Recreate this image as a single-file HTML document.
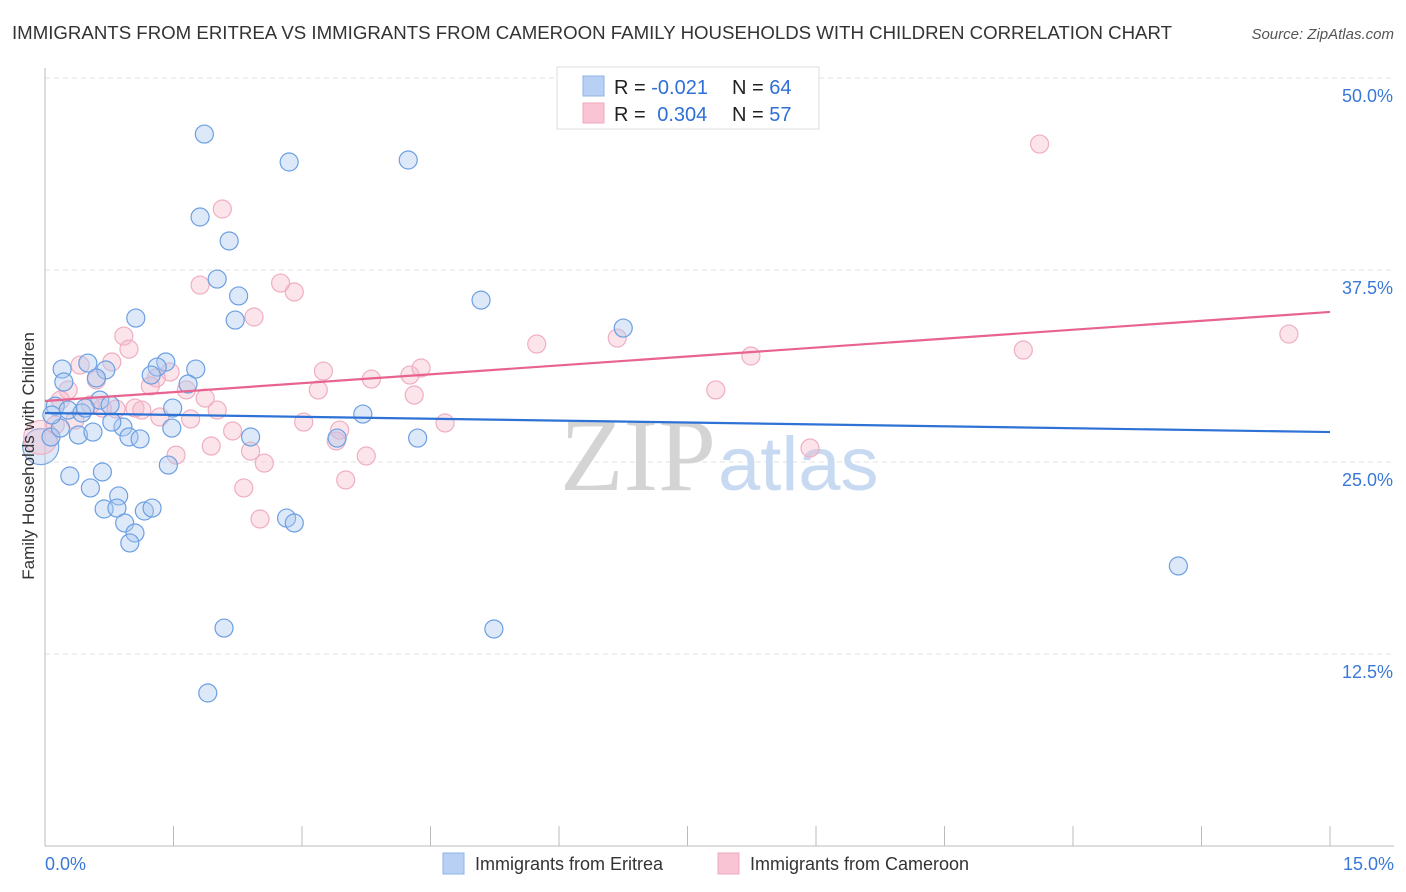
<!DOCTYPE html>
<html><head><meta charset="utf-8"><style>
body{margin:0;background:#fff;font-family:"Liberation Sans",sans-serif;}
svg{display:block}
</style></head><body>
<svg id="chart" width="1406" height="892" xmlns="http://www.w3.org/2000/svg">
<text x="12" y="39" font-size="18.6" fill="#333" textLength="1160" lengthAdjust="spacingAndGlyphs">IMMIGRANTS FROM ERITREA VS IMMIGRANTS FROM CAMEROON FAMILY HOUSEHOLDS WITH CHILDREN CORRELATION CHART</text>
<text x="1394" y="39" font-size="15" font-style="italic" fill="#555" text-anchor="end">Source: ZipAtlas.com</text>
<g id="grid"></g>
<text x="716" y="490" font-size="104" font-family="Liberation Serif,serif" fill="#d4d4d4" text-anchor="end">ZIP</text>
<text x="718" y="490" font-size="76" fill="#c8daf2">atlas</text>
<g id="axes"></g>
<g id="points"></g>
<g id="lines"></g>
<g>
<rect x="557" y="67" width="262" height="62" fill="#fff" stroke="#ddd"/>
<rect x="583" y="76" width="21" height="20" fill="#b7d0f3" stroke="#8fb3e6"/>
<rect x="583" y="103" width="21" height="20" fill="#f9c4d3" stroke="#f0a9bf"/>
<text x="614" y="94" font-size="20" fill="#222">R = <tspan fill="#2f6fd6">-0.021</tspan></text>
<text x="732" y="94" font-size="20" fill="#222">N = <tspan fill="#2f6fd6">64</tspan></text>
<text x="614" y="121" font-size="20" fill="#222">R = <tspan fill="#2f6fd6" dx="6">0.304</tspan></text>
<text x="732" y="121" font-size="20" fill="#222">N = <tspan fill="#2f6fd6">57</tspan></text>
</g>
<g>
<rect x="443" y="853" width="21" height="21" fill="#b7d0f3" stroke="#8fb3e6"/>
<text x="475" y="870" font-size="18" fill="#333">Immigrants from Eritrea</text>
<rect x="718" y="853" width="21" height="21" fill="#f9c4d3" stroke="#f0a9bf"/>
<text x="750" y="870" font-size="18" fill="#333">Immigrants from Cameroon</text>
</g>
<text x="34" y="456" font-size="17" fill="#333" transform="rotate(-90 34 456)" text-anchor="middle">Family Households with Children</text>
</svg>
<script>
const yTicks=[12.5,25,37.5,50];
const yTickLabels=["12.5%","25.0%","37.5%","50.0%"];
const xTickVals=[0,1.5,3,4.5,6,7.5,9,10.5,12,13.5,15];
const xEndLabels=["0.0%","15.0%"];
const eritreaX=[1.86,2.85,4.24,1.81,2.15,2.01,2.26,5.09,1.06,2.22,6.75,0.20,0.50,0.71,1.41,1.31,1.24,1.76,1.67,0.60,0.22,0.12,0.27,0.43,0.64,0.76,0.91,0.78,0.47,1.49,3.71,0.07,0.39,0.56,0.98,1.11,1.48,2.40,4.35,3.41,1.44,0.67,0.29,0.53,0.86,0.69,0.84,1.16,1.25,0.93,1.05,0.99,2.82,2.91,13.23,2.09,5.24,1.90,0.18,0.08];
const eritreaY=[46.35,44.53,44.66,40.95,39.39,36.91,35.81,35.54,34.37,34.24,33.72,31.05,31.44,30.99,31.51,31.18,30.66,31.05,30.08,30.47,30.21,28.64,28.38,28.19,29.03,28.71,27.28,27.60,28.51,28.51,28.12,26.63,26.76,26.95,26.63,26.50,27.21,26.63,26.56,26.56,24.80,24.35,24.09,23.31,22.79,21.94,22.00,21.81,22.00,21.03,20.38,19.73,21.35,21.03,18.23,14.19,14.13,9.96,27.21,28.06];
const cameroonX=[11.61,2.07,1.81,2.75,2.91,2.44,0.92,0.98,0.78,5.74,6.68,8.24,11.42,14.52,0.41,0.60,0.27,1.30,1.23,1.46,1.65,3.25,3.19,3.81,4.26,4.39,4.31,7.83,1.87,1.05,1.13,0.67,0.83,1.34,1.70,2.01,3.02,4.67,3.44,2.19,3.40,1.94,2.40,8.93,1.53,3.75,2.56,3.51,2.32,2.51,0.35,0.12,0.53,0.18];
const cameroonY=[45.70,41.47,36.52,36.65,36.07,34.44,33.20,32.35,31.51,32.68,33.07,31.90,32.29,33.33,31.31,30.34,29.69,30.47,29.95,30.86,29.69,30.92,29.69,30.40,30.66,31.12,29.36,29.69,29.16,28.51,28.38,28.51,28.45,27.93,27.80,28.38,27.60,27.54,27.08,27.02,26.37,26.04,25.71,25.91,25.45,25.39,24.93,23.83,23.31,21.29,27.73,27.41,28.71,29.03];
const bigX=[-0.05,-0.05];
const bigY=[26.0,26.6];
const eritreaTrend=[28.19,26.95];
const cameroonTrend=[28.97,34.77];
const NS="http://www.w3.org/2000/svg";
const X=v=>45+v/15*1285;
const Y=v=>846-v/12.5*192;
function mk(tag,attrs,parent){const e=document.createElementNS(NS,tag);for(const k in attrs)e.setAttribute(k,attrs[k]);parent.appendChild(e);return e;}
const grid=document.getElementById('grid'),axes=document.getElementById('axes'),pts=document.getElementById('points'),lines=document.getElementById('lines');
yTicks.forEach((t,i)=>{
 const l=mk('line',{x1:45,x2:1394,y1:Y(t),y2:Y(t),stroke:'#e2e2e2','stroke-dasharray':'5,4'},grid);
 
 
 const tx=mk('text',{x:1393,y:Y(t)+24,'font-size':18,fill:'#3a78d8','text-anchor':'end'},axes);
 tx.textContent=yTickLabels[i];
 
 
});
const ya=mk('line',{x1:45,x2:45,y1:68,y2:846,stroke:'#bbb'},axes);


const xa=mk('line',{x1:45,x2:1394,y1:846,y2:846,stroke:'#bbb'},axes);


xTickVals.forEach(v=>{
 const t=mk('line',{x1:X(v),x2:X(v),y1:826,y2:846,stroke:'#bbb'},axes);
 
 
});
const xl0=mk('text',{x:45,y:870,'font-size':18,fill:'#3a78d8'},axes);xl0.textContent=xEndLabels[0];


const xl1=mk('text',{x:1394,y:870,'font-size':18,fill:'#3a78d8','text-anchor':'end'},axes);xl1.textContent=xEndLabels[1];


const bc=mk('circle',{cx:X(bigX[0]),cy:Y(bigY[0]),r:18,fill:'rgba(169,200,240,0.4)',stroke:'#7ba8e4','stroke-width':1.2},pts);


const pc=mk('circle',{cx:X(bigX[1]),cy:Y(bigY[1]),r:17,fill:'rgba(245,184,200,0.35)',stroke:'#f0b0c3','stroke-width':1.2},pts);


cameroonX.forEach((x,i)=>{
 const c=mk('circle',{cx:X(x),cy:Y(cameroonY[i]),r:9,fill:'rgba(245,184,200,0.38)',stroke:'#f0aec2','stroke-width':1.2},pts);
 
 
});
eritreaX.forEach((x,i)=>{
 const c=mk('circle',{cx:X(x),cy:Y(eritreaY[i]),r:9,fill:'rgba(169,200,240,0.4)',stroke:'#6c9fe2','stroke-width':1.2},pts);
 
 
});
const lb=mk('line',{x1:X(0),y1:Y(eritreaTrend[0]),x2:X(15),y2:Y(eritreaTrend[1]),stroke:'#2f72d6','stroke-width':2.2},lines);


const lp=mk('line',{x1:X(0),y1:Y(cameroonTrend[0]),x2:X(15),y2:Y(cameroonTrend[1]),stroke:'#e8638f','stroke-width':2.2},lines);


</script>
</body></html>
